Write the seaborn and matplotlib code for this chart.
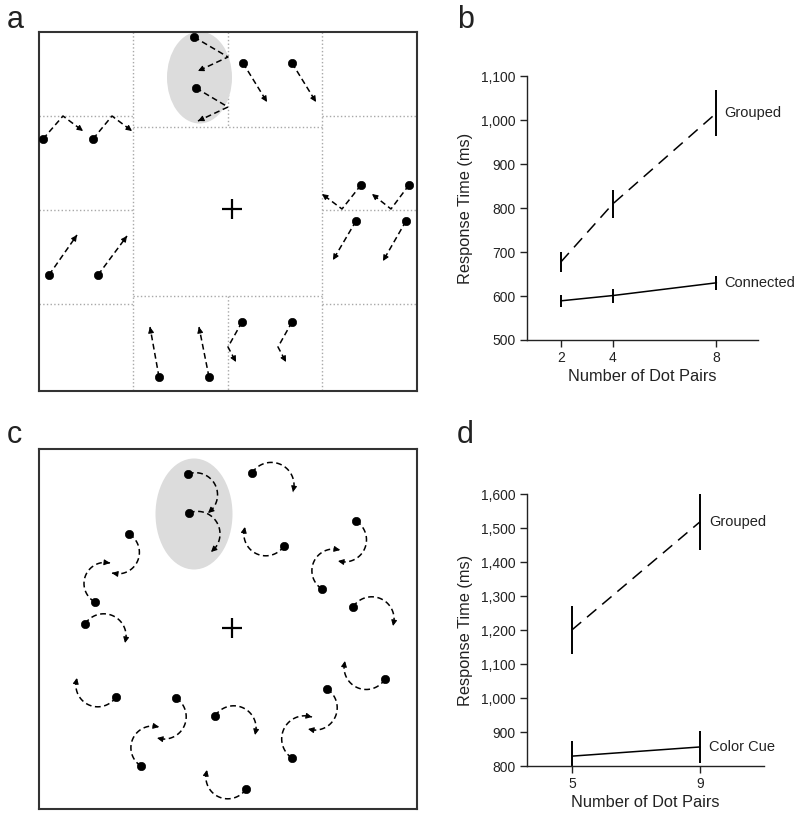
import numpy as np
import pandas as pd
import seaborn as sns
import matplotlib.pyplot as plt
from matplotlib.patches import Ellipse
from matplotlib.ticker import FuncFormatter

# ---- panel b data (mean RT, half error bar) ----
pairs_b = [2, 4, 8]
grouped_b = [677, 809, 1016]
grouped_b_err = [22, 31, 53]
connected_b = [589, 601, 630]
connected_b_err = [14, 16, 16]

# ---- panel d data ----
pairs_d = [5, 9]
grouped_d = [1200, 1518]
grouped_d_err = [70, 83]
colorcue_d = [829, 856]
colorcue_d_err = [45, 48]

# ---- panel a: dot paths (first point = dot, last point = arrow tip) ----
paths_a = [
    [(194, 37), (228, 57), (198, 71)],
    [(196, 88), (228, 107), (198, 121)],
    [(243, 63), (267, 102)],
    [(292, 63), (316, 102)],
    [(43, 139), (63, 116), (83, 131)],
    [(93, 139), (112, 116), (132, 131)],
    [(49, 275), (77, 235)],
    [(98, 275), (127, 236)],
    [(361, 185), (342, 209), (322, 194)],
    [(409, 185), (391, 209), (372, 194)],
    [(356, 221), (333, 260)],
    [(406, 221), (383, 261)],
    [(159, 377), (150, 327)],
    [(209, 377), (199, 327)],
    [(242, 322), (228, 347), (236, 362)],
    [(292, 322), (278, 347), (286, 362)],
]
grid_v_a = [(133, 32, 391), (322, 32, 391), (228, 32, 127), (228, 296, 391)]
grid_h_a = [(116, 39, 133), (210, 39, 133), (304, 39, 133),
            (116, 322, 417), (210, 322, 417), (304, 322, 417),
            (127, 133, 322), (296, 133, 322)]

# ---- panel c: curved motions (dot, arrow tip), all clockwise ----
arcs_c = [
    ((188, 474), (208, 513)), ((189, 513), (211, 552)),
    ((252, 473), (293, 492)), ((284, 546), (245, 527)),
    ((356, 521), (338, 561)), ((322, 589), (340, 550)),
    ((353, 607), (393, 626)), ((385, 679), (345, 661)),
    ((327, 689), (308, 729)), ((292, 758), (312, 717)),
    ((215, 716), (255, 735)), ((246, 789), (207, 770)),
    ((176, 698), (157, 738)), ((141, 766), (159, 727)),
    ((85, 624), (125, 643)), ((116, 697), (77, 678)),
    ((129, 534), (112, 573)), ((95, 602), (110, 563)),
]

sns.set_style("ticks")
plt.rcParams['font.family'] = ['Liberation Sans', 'DejaVu Sans']
TXT = '#222222'

W, H = 800, 817
fig = plt.figure(figsize=(8, 8.17), dpi=100)


def box(x0, y0, x1, y1):
    return [x0 / W, 1 - y1 / H, (x1 - x0) / W, (y1 - y0) / H]


def arrow_head(ax, p_from, p_to):
    ax.annotate('', xy=p_to, xytext=p_from,
                arrowprops=dict(arrowstyle='-|>', color='k', lw=0.8,
                                mutation_scale=8.5, shrinkA=0, shrinkB=0),
                zorder=4)


def stim_axes(rect, xlim, ylim):
    ax = fig.add_axes(rect)
    ax.set_xlim(*xlim)
    ax.set_ylim(*ylim)
    ax.set_xticks([])
    ax.set_yticks([])
    for s in ax.spines.values():
        s.set_linewidth(1.5)
        s.set_color('#333333')
    return ax


dash = (0, (3.8, 2.3))

# ---------------- panel a ----------------
ax_a = stim_axes(box(39, 32, 417, 391), (39, 417), (391, 32))
for x, y0, y1 in grid_v_a:
    ax_a.plot([x, x], [y0, y1], ls=':', color='#a8a8a8', lw=1.0, zorder=1)
for y, x0, x1 in grid_h_a:
    ax_a.plot([x0, x1], [y, y], ls=':', color='#a8a8a8', lw=1.0, zorder=1)
ax_a.add_patch(Ellipse((199.5, 77.5), 65, 92, color='#dcdcdc', zorder=2, lw=0))
for p in paths_a:
    xs, ys = zip(*p)
    ax_a.plot(xs, ys, color='k', lw=1.1, ls=dash, zorder=3)
    v = np.array(p[-1]) - np.array(p[-2])
    v = v / np.hypot(*v)
    arrow_head(ax_a, tuple(np.array(p[-1]) - v * 6), p[-1])
sns.scatterplot(x=[p[0][0] for p in paths_a], y=[p[0][1] for p in paths_a],
                color='k', s=36, edgecolor=None, ax=ax_a, zorder=5, legend=False)
ax_a.plot(232, 209, marker='+', ms=14, mew=1.6, color='k')
ax_a.set_xlabel('')
ax_a.set_ylabel('')

# ---------------- panel c ----------------
ax_c = stim_axes(box(39, 449, 417, 809), (39, 417), (809, 449))
ax_c.add_patch(Ellipse((194, 514), 77, 111, color='#dcdcdc', zorder=2, lw=0))
phi = np.deg2rad(165)
for s, e in arcs_c:
    s = np.array(s, float)
    e = np.array(e, float)
    chord = e - s
    c = np.hypot(*chord)
    u = chord / c
    nb = np.array([u[1], -u[0]])
    R = c / (2 * np.sin(phi / 2))
    cen = (s + e) / 2 - nb * R * np.cos(phi / 2)
    th0 = np.arctan2(s[1] - cen[1], s[0] - cen[0])
    th = np.linspace(th0, th0 + phi, 60)
    xs = cen[0] + R * np.cos(th)
    ys = cen[1] + R * np.sin(th)
    ax_c.plot(xs, ys, color='k', lw=1.1, ls=dash, zorder=3)
    arrow_head(ax_c, (xs[-6], ys[-6]), (xs[-1], ys[-1]))
sns.scatterplot(x=[a[0][0] for a in arcs_c], y=[a[0][1] for a in arcs_c],
                color='k', s=36, edgecolor=None, ax=ax_c, zorder=5, legend=False)
ax_c.plot(232, 628, marker='+', ms=14, mew=1.6, color='k')
ax_c.set_xlabel('')
ax_c.set_ylabel('')


# ---------------- result panels ----------------
def rt_panel(rect, x, top, top_err, bot, bot_err, names, xlim, ylim, yticks, lab_x):
    ax = fig.add_axes(rect)
    df = pd.DataFrame({
        'pairs': list(x) * 2,
        'rt': list(top) + list(bot),
        'cond': [names[0]] * len(x) + [names[1]] * len(x),
    })
    sns.lineplot(data=df, x='pairs', y='rt', style='cond', style_order=names,
                 dashes={names[0]: (8, 5), names[1]: ''}, color='k', lw=1.1,
                 legend=False, ax=ax)
    ax.vlines(x, np.array(top) - top_err, np.array(top) + top_err, color='k', lw=1.4)
    ax.vlines(x, np.array(bot) - bot_err, np.array(bot) + bot_err, color='k', lw=1.4)
    ax.text(lab_x, top[-1], names[0], fontsize=10.5, color=TXT, va='center', ha='left')
    ax.text(lab_x, bot[-1], names[1], fontsize=10.5, color=TXT, va='center', ha='left')
    ax.set_xlim(*xlim)
    ax.set_ylim(*ylim)
    ax.set_xticks(x)
    ax.set_yticks(yticks)
    ax.yaxis.set_major_formatter(FuncFormatter(lambda v, _: f'{int(v):,}'))
    sns.despine(ax=ax)
    for s in ['left', 'bottom']:
        ax.spines[s].set_linewidth(1.0)
        ax.spines[s].set_color('#222222')
    ax.tick_params(direction='out', length=5, width=1.0, color='#222222',
                   labelsize=10, labelcolor=TXT, pad=3)
    ax.set_xlabel('Number of Dot Pairs', fontsize=11.8, color=TXT, labelpad=3)
    ax.set_ylabel('Response Time (ms)', fontsize=11.8, color=TXT, labelpad=6)
    return ax


rt_panel(box(527, 76, 758, 340), pairs_b, grouped_b, grouped_b_err,
         connected_b, connected_b_err, ['Grouped', 'Connected'],
         (0.7, 9.6), (500, 1100), range(500, 1101, 100), 8.3)
rt_panel(box(527, 494, 764, 766), pairs_d, grouped_d, grouped_d_err,
         colorcue_d, colorcue_d_err, ['Grouped', 'Color Cue'],
         (3.6, 11.0), (800, 1600), range(800, 1601, 100), 9.28)

for lab, px, py in [('a', 7, 28), ('b', 457, 28), ('c', 7, 443), ('d', 457, 443)]:
    fig.text(px / W, 1 - py / H, lab, fontsize=22, color=TXT, va='baseline', ha='left')

fig.savefig('out.png', dpi=100)
